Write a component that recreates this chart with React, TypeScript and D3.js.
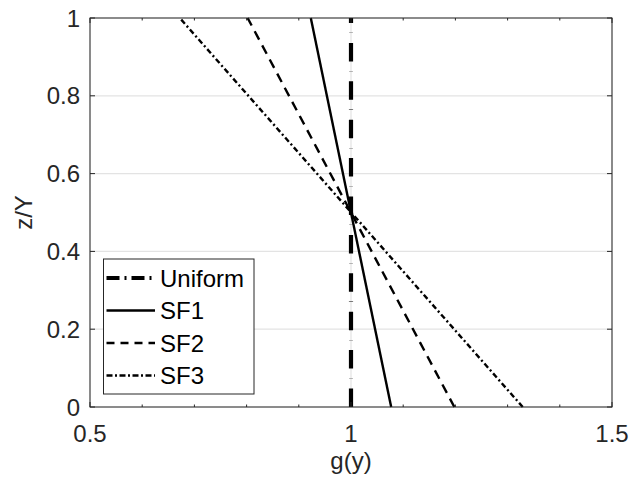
import React from "react";
import * as d3 from "d3";

const seriesNames = ["Uniform", "SF1", "SF2", "SF3"];
const zValues = [0, 1];
const uniformG = [1, 1];
const sf1G = [1.077, 0.923];
const sf2G = [1.198, 0.802];
const sf3G = [1.329, 0.672];
const xMajorTicks = [0.5, 1, 1.5];
const xMinorTicks = [0.6, 0.7, 0.8, 0.9, 1.1, 1.2, 1.3, 1.4];
const yTicks = [0, 0.2, 0.4, 0.6, 0.8, 1];
const xLabel = "g(y)";
const yLabel = "z/Y";

const W = 630;
const H = 489;
const L = 90, R = 612, T = 18, B = 407;
const axisColor = "#262626";
const gridColor = "#e3e3e3";
const font = "'Liberation Sans', Arial, Helvetica, sans-serif";
const fs = 24;

const styles = [
  { width: 4.2, dash: "18.5,9.8,0.3,9.8", legDash: "13,5,2,5" },
  { width: 2.4, dash: "none", legDash: "none" },
  { width: 2.4, dash: "9.5,6.5", legDash: "8,6" },
  { width: 2.4, dash: "5.5,2.8,2,2.8", legDash: "6,2.5,2,2.5" },
];

export default function App() {
  const x = d3.scaleLinear().domain([0.5, 1.5]).range([L, R]);
  const y = d3.scaleLinear().domain([0, 1]).range([B, T]);
  const allG = [uniformG, sf1G, sf2G, sf3G];
  const line = d3
    .line<[number, number]>()
    .x((d) => x(d[0]))
    .y((d) => y(d[1]));

  const legX0 = 103.5, legX1 = 254, legY0 = 259, legY1 = 394;
  const legRowY = (i: number) => 278 + i * 32.5;

  return (
    <svg
      width={W}
      height={H}
      style={{ position: "absolute", left: 0, top: 0, background: "#fff" }}
      fontFamily={font}
    >
      <rect x={0} y={0} width={W} height={H} fill="#fff" />
      {yTicks.map((t) => (
        <line key={"gy" + t} x1={L} x2={R} y1={y(t)} y2={y(t)} stroke={gridColor} strokeWidth={1.2} />
      ))}
      {xMajorTicks.map((t) => (
        <line key={"gx" + t} x1={x(t)} x2={x(t)} y1={T} y2={B} stroke={gridColor} strokeWidth={1.2} />
      ))}
      {allG.map((g, i) => (
        <path
          key={seriesNames[i]}
          d={line(zValues.map((z, k) => [g[k], z] as [number, number])) || ""}
          fill="none"
          stroke="#000"
          strokeWidth={styles[i].width}
          strokeDasharray={styles[i].dash}
        />
      ))}
      <rect x={L} y={T} width={R - L} height={B - T} fill="none" stroke={axisColor} strokeWidth={1} />
      {yTicks.map((t) => (
        <g key={"yt" + t}>
          <line x1={L} x2={L + 5} y1={y(t)} y2={y(t)} stroke={axisColor} />
          <line x1={R - 5} x2={R} y1={y(t)} y2={y(t)} stroke={axisColor} />
          <text x={L - 10} y={y(t)} dy="0.36em" textAnchor="end" fontSize={fs} fill={axisColor}>
            {String(t)}
          </text>
        </g>
      ))}
      {xMajorTicks.map((t) => (
        <g key={"xt" + t}>
          <line x1={x(t)} x2={x(t)} y1={B} y2={B - 5} stroke={axisColor} />
          <line x1={x(t)} x2={x(t)} y1={T} y2={T + 5} stroke={axisColor} />
          <text x={x(t)} y={442} textAnchor="middle" fontSize={fs} fill={axisColor}>
            {String(t)}
          </text>
        </g>
      ))}
      {xMinorTicks.map((t) => (
        <g key={"xm" + t}>
          <line x1={x(t)} x2={x(t)} y1={B} y2={B - 2.5} stroke={axisColor} />
          <line x1={x(t)} x2={x(t)} y1={T} y2={T + 2.5} stroke={axisColor} />
        </g>
      ))}
      <text x={(L + R) / 2} y={469} textAnchor="middle" fontSize={fs} fill={axisColor}>
        {xLabel}
      </text>
      <text
        transform={`translate(32,${(T + B) / 2}) rotate(-90)`}
        textAnchor="middle"
        fontSize={fs}
        fill={axisColor}
      >
        {yLabel}
      </text>
      <rect x={legX0} y={legY0} width={legX1 - legX0} height={legY1 - legY0} fill="#fff" stroke={axisColor} strokeWidth={1} />
      {seriesNames.map((name, i) => (
        <g key={"leg" + name}>
          <line
            x1={106.5}
            x2={155}
            y1={legRowY(i)}
            y2={legRowY(i)}
            stroke="#000"
            strokeWidth={styles[i].width}
            strokeDasharray={styles[i].legDash}
          />
          <text x={160} y={legRowY(i)} dy="0.36em" fontSize={fs} fill="#000">
            {name}
          </text>
        </g>
      ))}
    </svg>
  );
}
